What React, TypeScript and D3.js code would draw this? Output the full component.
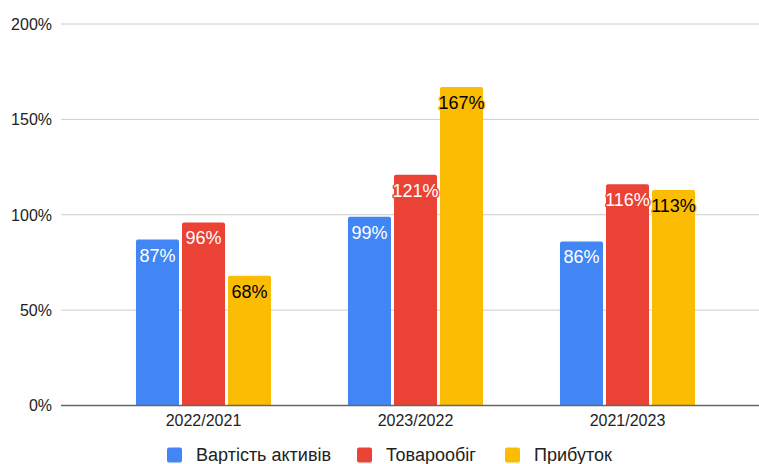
import React, { useEffect, useRef } from "react";
import * as d3 from "d3";

const categories = ["2022/2021", "2023/2022", "2021/2023"];
const seriesNames = ["Вартість активів", "Товарообіг", "Прибуток"];
const assetValues = [87, 99, 86];
const turnoverValues = [96, 121, 116];
const profitValues = [68, 167, 113];
const seriesColors = ["#4285F4", "#EA4335", "#FBBC04"];
const labelColors = ["#ffffff", "#ffffff", "#000000"];
const yTicks = [0, 50, 100, 150, 200];

const WIDTH = 759;
const HEIGHT = 464;
const FONT = "Arial, 'Liberation Sans', sans-serif";

export default function App() {
  const ref = useRef<SVGSVGElement | null>(null);

  useEffect(() => {
    const svg = d3.select(ref.current);
    svg.selectAll("*").remove();

    const series = [assetValues, turnoverValues, profitValues];

    const y = d3.scaleLinear().domain([0, 200]).range([405.5, 24]);
    const x0 = d3
      .scaleBand<string>()
      .domain(categories)
      .range([97.5, 733.5])
      .paddingInner(0.363)
      .paddingOuter(0.1815);
    const x1 = d3
      .scaleBand<number>()
      .domain(d3.range(seriesNames.length))
      .range([0, x0.bandwidth()])
      .paddingInner(0.065)
      .paddingOuter(0);

    // horizontal gridlines and tick labels
    const grid = svg.append("g");
    grid
      .selectAll("line")
      .data(yTicks.filter((t) => t !== 0))
      .join("line")
      .attr("x1", 61)
      .attr("x2", WIDTH)
      .attr("y1", (d) => y(d))
      .attr("y2", (d) => y(d))
      .attr("stroke", "#cccccc")
      .attr("stroke-width", 1);

    grid
      .selectAll("text")
      .data(yTicks)
      .join("text")
      .attr("x", 52)
      .attr("y", (d) => y(d))
      .attr("dy", "0.36em")
      .attr("text-anchor", "end")
      .attr("font-family", FONT)
      .attr("font-size", 16)
      .attr("fill", "#222222")
      .text((d) => `${d}%`);

    // bars
    const groups = svg
      .append("g")
      .selectAll("g")
      .data(categories)
      .join("g")
      .attr("transform", (c) => `translate(${x0(c)},0)`);

    groups
      .selectAll("path")
      .data((_, ci) => series.map((s, si) => ({ si, v: s[ci] })))
      .join("path")
      .attr("d", (d) => {
        const bx = x1(d.si)!;
        const bw = x1.bandwidth();
        const top = y(d.v);
        const bottom = y(0);
        const r = 2;
        return `M${bx},${bottom}V${top + r}Q${bx},${top} ${bx + r},${top}H${bx + bw - r}Q${bx + bw},${top} ${bx + bw},${top + r}V${bottom}Z`;
      })
      .attr("fill", (d) => seriesColors[d.si]);

    groups
      .selectAll("text")
      .data((_, ci) => series.map((s, si) => ({ si, v: s[ci] })))
      .join("text")
      .attr("x", (d) => x1(d.si)! + x1.bandwidth() / 2)
      .attr("y", (d) => y(d.v) + 22)
      .attr("text-anchor", "middle")
      .attr("font-family", FONT)
      .attr("font-size", 18)
      .attr("fill", (d) => labelColors[d.si])
      .attr("stroke", (d) => seriesColors[d.si])
      .attr("stroke-width", 3)
      .attr("stroke-linejoin", "round")
      .attr("paint-order", "stroke")
      .text((d) => `${d.v}%`);

    // baseline
    svg
      .append("line")
      .attr("x1", 61)
      .attr("x2", WIDTH)
      .attr("y1", y(0))
      .attr("y2", y(0))
      .attr("stroke", "#666666")
      .attr("stroke-width", 1.6);

    // category labels
    svg
      .append("g")
      .selectAll("text")
      .data(categories)
      .join("text")
      .attr("x", (c) => x0(c)! + x0.bandwidth() / 2)
      .attr("y", 425.5)
      .attr("text-anchor", "middle")
      .attr("font-family", FONT)
      .attr("font-size", 16)
      .attr("fill", "#222222")
      .text((c) => c);

    // legend
    const legendX = [167, 357, 505];
    const legend = svg
      .append("g")
      .selectAll("g")
      .data(seriesNames)
      .join("g")
      .attr("transform", (_, i) => `translate(${legendX[i]},447.5)`);
    legend
      .append("rect")
      .attr("width", 15)
      .attr("height", 15)
      .attr("rx", 2)
      .attr("fill", (_, i) => seriesColors[i]);
    legend
      .append("text")
      .attr("x", 29)
      .attr("y", 13)
      .attr("font-family", FONT)
      .attr("font-size", 18)
      .attr("fill", "#222222")
      .text((d) => d);
  }, []);

  return (
    <svg
      ref={ref}
      width={WIDTH}
      height={HEIGHT}
      style={{ position: "fixed", left: 0, top: 0, background: "#ffffff" }}
    />
  );
}
